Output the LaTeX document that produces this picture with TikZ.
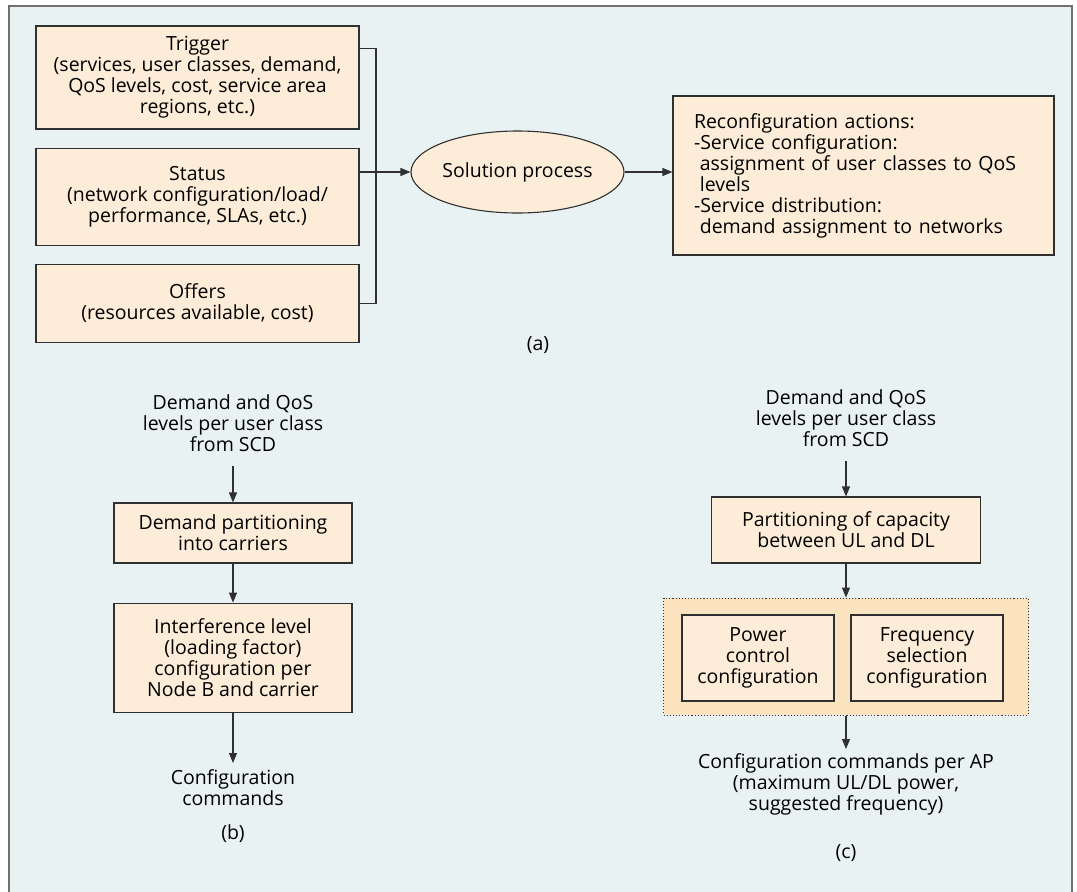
\documentclass[tikz,border=0pt]{standalone}
\usepackage{fontspec}
\setmainfont{Open Sans}
\usetikzlibrary{shapes.geometric,arrows.meta,positioning}

\definecolor{panelbg}{HTML}{E8F2F2}
\definecolor{panelline}{HTML}{707070}
\definecolor{boxfill}{HTML}{FDEDD8}
\definecolor{groupfill}{HTML}{FBE3C0}
\definecolor{edgegray}{HTML}{303030}

\begin{document}
\begin{tikzpicture}[
        x=1pt, y=-1pt,
        font=\fontsize{19.5}{21}\selectfont,
        block/.style={rectangle, draw=edgegray, fill=boxfill, line width=1.1pt, align=center, inner sep=0pt},
        proc/.style={ellipse, draw=edgegray, fill=boxfill, line width=1.1pt, inner sep=0pt, minimum width=213pt, minimum height=82pt},
        group/.style={rectangle, draw=edgegray, dotted, fill=groupfill, line width=1.1pt, minimum width=365pt, minimum height=117pt},
        plain/.style={align=center, inner sep=0pt},
        arr/.style={-{Triangle[length=10pt,width=8pt]}, line width=1.1pt, draw=edgegray},
        wire/.style={line width=1.1pt, draw=edgegray}
    ]

        % Panel
        \useasboundingbox (0,0) rectangle (1077,892);
        \fill[white] (0,0) rectangle (1077,892);
        \filldraw[fill=panelbg, draw=panelline, line width=1.2pt] (9,895) -- (9,6) -- (1072,6) -- (1072,895);

        % (a) Inputs
        \node [block, minimum width=323pt, minimum height=103pt] (trigger) at (197.5,77.5) {Trigger\\(services, user classes, demand,\\QoS levels, cost, service area\\regions, etc.)};
        \node [block, minimum width=323pt, minimum height=97pt, below=18pt of trigger] (status) {Status\\(network configuration/load/\\performance, SLAs, etc.)};
        \node [block, minimum width=323pt, minimum height=78pt, below=18pt of status] (offers) {Offers\\(resources available, cost)};

        % (a) Solution process
        \node [proc] (sol) at (517.5,172) {Solution process};

        % (a) Reconfiguration actions
        \node [block, align=left, text width=339pt, inner xsep=21pt, minimum height=159pt] (reconf) at (863.5,175.5) {Reconfiguration actions:\\-Service configuration:\\\hspace*{0.3em}assignment of user classes to QoS\\\hspace*{0.3em}levels\\-Service distribution:\\\hspace*{0.3em}demand assignment to networks};

        \node [plain] (lbla) at (538,345) {(a)};

        % (a) Arrows
        \coordinate (brk) at (376,172);
        \draw [wire] (trigger.north east) ++(0,23) -| (brk |- offers.east) -- (offers.east);
        \draw [arr] (status.east |- sol.west) -- (sol.west);
        \draw [arr] (sol.east) -- (reconf.west |- sol.east);

        % (b) Column
        \node [plain] (inb) at (233,423.5) {Demand and QoS\\levels per user class\\from SCD};
        \node [block, minimum width=238pt, minimum height=60pt] (dp) at (233,533) {Demand partitioning\\into carriers};
        \node [block, minimum width=238pt, minimum height=109pt, below=39pt of dp] (intf) {Interference level\\(loading factor)\\configuration per\\Node B and carrier};
        \node [plain] (cmdb) at (233,787.5) {Configuration\\commands};
        \node [plain] (lblb) at (233,834) {(b)};

        % (b) Arrows
        \coordinate (b0) at (233,466);
        \coordinate (b3) at (233,763);
        \draw [arr] (b0) -- (dp.north);
        \draw [arr] (dp) -- (intf);
        \draw [arr] (intf.south) -- (b3);

        % (c) Column
        \node [plain] (inc) at (846,418) {Demand and QoS\\levels per user class\\from SCD};
        \node [block, minimum width=269pt, minimum height=66pt] (pc) at (846,530) {Partitioning of capacity\\between UL and DL};
        \node [group, below=34pt of pc] (grp) {};
        \node [block, minimum width=152pt, minimum height=86pt] (power) at (758,658) {Power\\control\\configuration};
        \node [block, minimum width=152pt, minimum height=86pt] (freq) at (927,658) {Frequency\\selection\\configuration};
        \node [plain] (cmdc) at (846,784.5) {Configuration commands per AP\\(maximum UL/DL power,\\suggested frequency)};
        \node [plain] (lblc) at (846,853) {(c)};

        % (c) Arrows
        \coordinate (c0) at (846,461);
        \coordinate (c3) at (846,749);
        \draw [arr] (c0) -- (pc.north);
        \draw [arr] (pc) -- (grp);
        \draw [arr] (grp.south) -- (c3);

    \end{tikzpicture}
\end{document}
